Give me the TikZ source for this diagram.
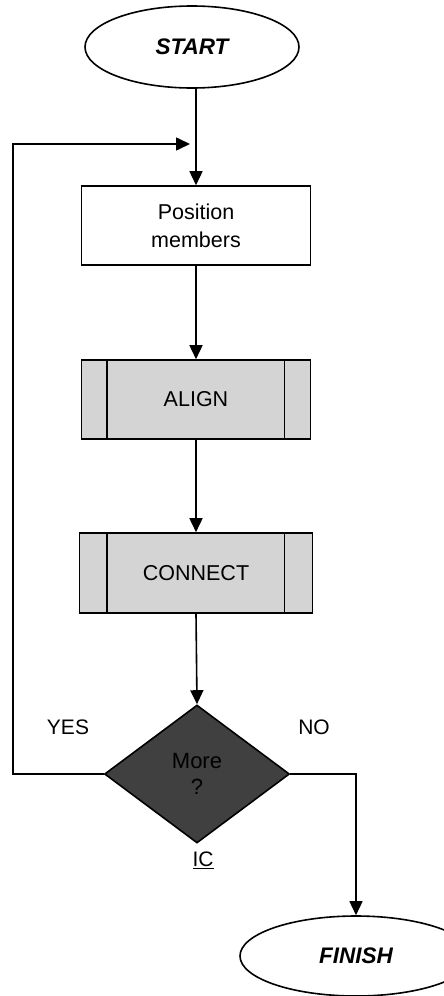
\documentclass[tikz,border=0pt]{standalone}
\usepackage{fontspec}
\setmainfont{Liberation Sans}
\usetikzlibrary{shapes.geometric,arrows.meta}
\begin{document}
\begin{tikzpicture}[x=1pt,y=-1pt,
  line width=1.6pt,
  arr/.style={-{Triangle[length=14pt,width=13pt]}},
  term/.style={draw,ellipse,inner sep=0pt,font=\fontsize{22.5}{24}\selectfont\bfseries\itshape},
  proc/.style={draw,rectangle,inner sep=0pt,align=center,font=\fontsize{21.5}{28}\selectfont},
  subproc/.style={proc,fill=black!17},
  decide/.style={draw,diamond,inner sep=0pt,align=center,fill=black!75,font=\fontsize{22}{26}\selectfont},
  lbl/.style={font=\fontsize{21}{22}\selectfont,inner sep=0pt}]
\useasboundingbox (0,0) rectangle (444,996);
\node[term,minimum width=214pt,minimum height=82pt] (start) at (192,47) {START};
\node[proc,minimum width=229pt,minimum height=79pt] (pos) at (196,225.5) {Position\\members};
\node[subproc,minimum width=229pt,minimum height=79pt] (align) at (196,399.5) {ALIGN};
\draw ([xshift=26pt]align.north west) -- ([xshift=26pt]align.south west);
\draw ([xshift=-27pt]align.north east) -- ([xshift=-27pt]align.south east);
\node[subproc,minimum width=233pt,minimum height=80pt] (conn) at (196,573) {CONNECT};
\draw ([xshift=28pt]conn.north west) -- ([xshift=28pt]conn.south west);
\draw ([xshift=-29pt]conn.north east) -- ([xshift=-29pt]conn.south east);
\node[decide,minimum width=185pt,minimum height=138pt] (dia) at (197,774) {More\\?};
\node[term,minimum width=232pt,minimum height=80pt] (finish) at (356,956) {FINISH};
\node[lbl] (yes) at (68,727) {YES};
\node[lbl] (no) at (314,727) {NO};
\node[lbl] (ic) at (203,860) {\underline{IC}};
\coordinate (lp) at (13,144);
\coordinate (lpend) at (190,144);
\draw[arr] (start.south -| pos.north) -- (pos.north);
\draw[arr] (pos.south) -- (align.north);
\draw[arr] (align.south) -- (conn.north);
\draw[arr] (conn.south) -- (dia.north);
\draw[arr] (dia.west) -| (lp) -- (lpend);
\draw[arr] (dia.east) -| (finish.north);
\end{tikzpicture}
\end{document}
